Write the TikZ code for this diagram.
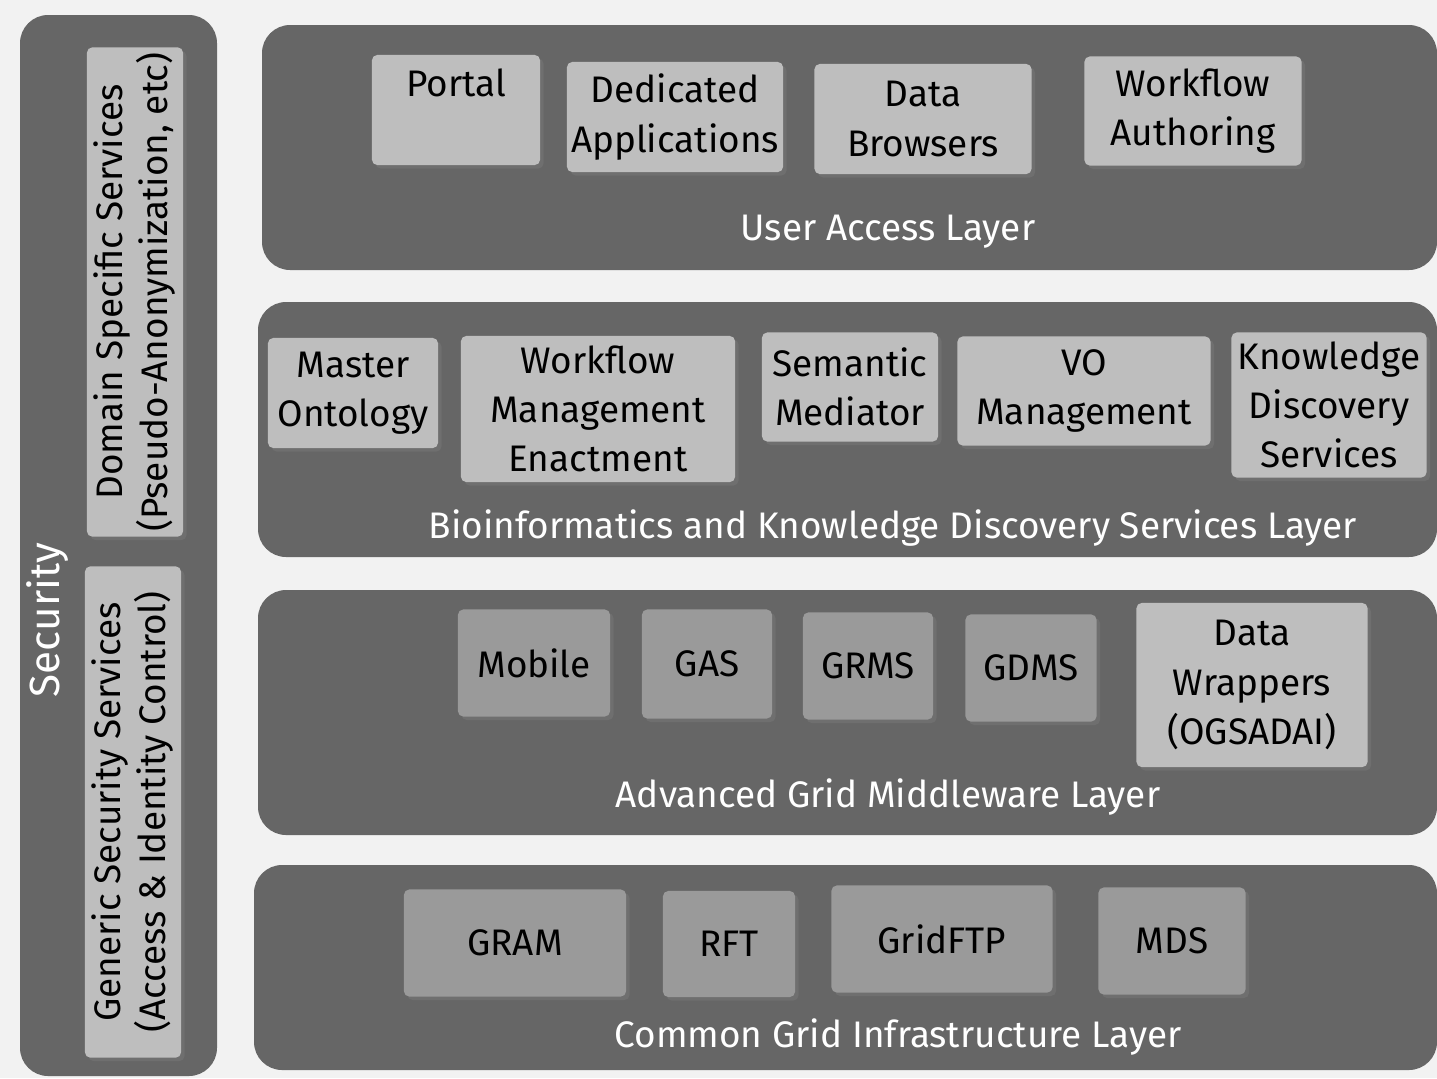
\documentclass[tikz,border=0pt]{standalone}
\usepackage{fontspec}
\setmainfont{Fira Sans}
\usepackage{tikz}
\usetikzlibrary{shadows}
\definecolor{pagegray}{HTML}{F2F2F2}
\definecolor{bandgray}{HTML}{666666}
\definecolor{lightbox}{HTML}{BEBEBE}
\definecolor{midbox}{HTML}{9A9A9A}

\begin{document}
\begin{tikzpicture}[x=0.01cm,y=-0.01cm,
  band/.style={fill=bandgray, rounded corners=8pt},
  bandtext/.style={text=white, font=\fontsize{10.5}{14}\selectfont},
  box/.style={fill=lightbox, rounded corners=1.5pt, align=center, inner sep=0pt,
    font=\fontsize{10.5}{14}\selectfont,
    drop shadow={opacity=0.35, shadow xshift=1pt, shadow yshift=-1pt}},
  darkbox/.style={box, fill=midbox}]

\fill[pagegray] (0,0) rectangle (1437,1078);
\useasboundingbox (0,0) rectangle (1437,1078);

% Security column
\fill[band] (20,15) rectangle (217,1076);
\node[bandtext, rotate=90, font=\fontsize{12}{14}\selectfont] (security) at (48,620) {Security};
\node[box, rotate=90, minimum width=4.89cm, minimum height=0.96cm,
  font=\fontsize{10.5}{12.8}\selectfont] (domain) at (135,292)
  {Domain Specific Services\\(Pseudo-Anonymization, etc)};
\node[box, rotate=90, minimum width=4.91cm, minimum height=0.96cm,
  font=\fontsize{10.5}{12.8}\selectfont] (generic) at (133,812)
  {Generic Security Services\\(Access \& Identity Control)};

% User Access Layer
\fill[band] (262,25) rectangle (1437,270);
\node[bandtext] (useraccess) at (888,232) {User Access Layer};
\node[box, minimum width=1.68cm, minimum height=1.10cm,
  label={[anchor=north, inner sep=0pt, yshift=-4pt, font=\fontsize{10.5}{14}\selectfont]north:Portal}]
  (portal) at (456,110) {};
\node[box, minimum width=2.16cm, minimum height=1.10cm] (dedapp) at (675,117) {Dedicated\\Applications};
\node[box, minimum width=2.17cm, minimum height=1.10cm] (databrowse) at (923,119) {Data\\Browsers};
\node[box, minimum width=2.17cm, minimum height=1.09cm] (wfauthor) at (1193,111) {Workflow\\Authoring};

% Bioinformatics and Knowledge Discovery Services Layer
\fill[band] (258,302) rectangle (1437,557);
\node[bandtext] (bioinf) at (893,528) {Bioinformatics and Knowledge Discovery Services Layer};
\node[box, minimum width=1.70cm, minimum height=1.10cm] (ontology) at (353,393) {Master\\Ontology};
\node[box, minimum width=2.74cm, minimum height=1.46cm] (wfmanage) at (598,409) {Workflow\\Management\\Enactment};
\node[box, minimum width=1.76cm, minimum height=1.09cm] (mediator) at (850,387) {Semantic\\Mediator};
\node[box, minimum width=2.53cm, minimum height=1.09cm] (vomanage) at (1084,391) {VO\\Management};
\node[box, minimum width=1.95cm, minimum height=1.45cm] (kdserv) at (1329,405) {Knowledge\\Discovery\\Services};

% Advanced Grid Middleware Layer
\fill[band] (258,590) rectangle (1437,835);
\node[bandtext] (middleware) at (888,797) {Advanced Grid Middleware Layer};
\node[darkbox, minimum width=1.52cm, minimum height=1.07cm] (mobile) at (534,663) {Mobile};
\node[darkbox, minimum width=1.30cm, minimum height=1.09cm] (gas) at (707,664) {GAS};
\node[darkbox, minimum width=1.30cm, minimum height=1.07cm] (grms) at (868,666) {GRMS};
\node[darkbox, minimum width=1.31cm, minimum height=1.07cm] (gdms) at (1031,668) {GDMS};
\node[box, minimum width=2.31cm, minimum height=1.64cm] (wrappers) at (1252,685) {Data\\Wrappers\\(OGSADAI)};

% Common Grid Infrastructure Layer
\fill[band] (254,865) rectangle (1437,1070);
\node[bandtext] (infra) at (898,1037) {Common Grid Infrastructure Layer};
\node[darkbox, minimum width=2.22cm, minimum height=1.07cm] (gram) at (515,943) {GRAM};
\node[darkbox, minimum width=1.32cm, minimum height=1.06cm] (rft) at (729,944) {RFT};
\node[darkbox, minimum width=2.21cm, minimum height=1.07cm] (gridftp) at (942,939) {GridFTP};
\node[darkbox, minimum width=1.47cm, minimum height=1.07cm] (mds) at (1172,941) {MDS};
\end{tikzpicture}
\end{document}
